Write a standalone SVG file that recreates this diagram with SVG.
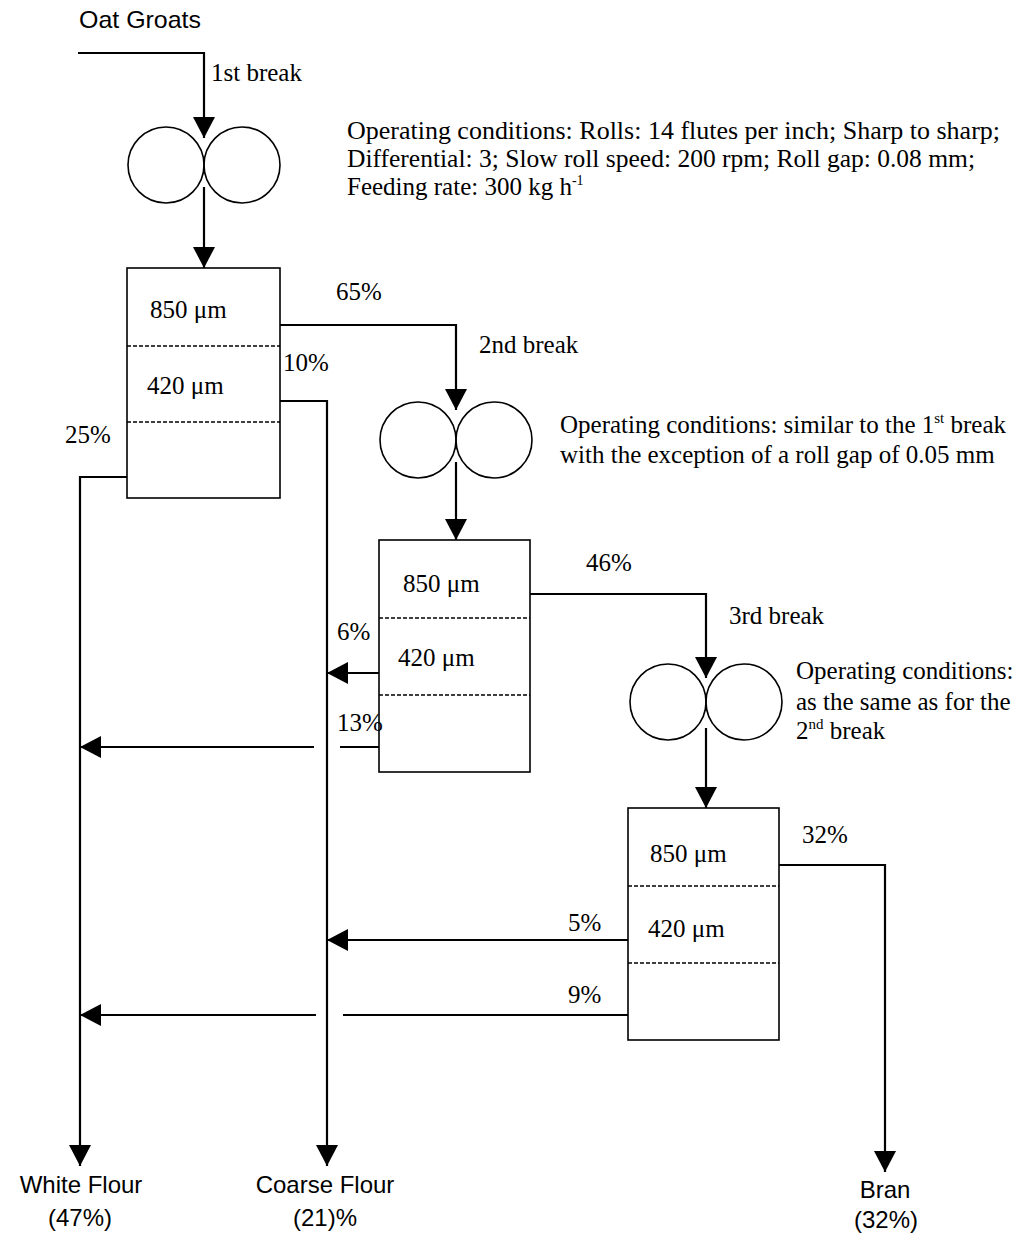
<svg xmlns="http://www.w3.org/2000/svg" width="1023" height="1233" viewBox="0 0 1023 1233">
<defs>
<style>
.serif{font-family:"Liberation Serif","Times New Roman",serif;font-size:25px;fill:#000}
.sans{font-family:"Liberation Sans",Arial,sans-serif;font-size:24px;fill:#000}
.box{fill:#fff;stroke:#000;stroke-width:1.6}
.dash{stroke:#000;stroke-width:1.5;stroke-dasharray:4 2;fill:none}
.roll{fill:none;stroke:#000;stroke-width:1.6}
.ln{fill:none;stroke:#000;stroke-width:2.2}
.arr{fill:none;stroke:#000;stroke-width:2.2;marker-end:url(#ah)}
</style>
<marker id="ah" viewBox="0 0 21 22" refX="21" refY="11" markerWidth="21" markerHeight="22" markerUnits="userSpaceOnUse" orient="auto">
<path d="M0,0 L21,11 L0,22 Z" fill="#000"/>
</marker>
</defs>
<rect width="1023" height="1233" fill="#fff"/>

<g id="connectors">
<polyline class="arr" points="78,53 204,53 204,138"/>
<line class="arr" x1="204" y1="187" x2="204" y2="268"/>
<polyline class="arr" points="280,325 456,325 456,410"/>
<polyline class="arr" points="280,401 327,401 327,1166"/>
<polyline class="arr" points="127,477 80,477 80,1166"/>
<line class="arr" x1="456" y1="462" x2="456" y2="540"/>
<polyline class="arr" points="530,594 706,594 706,678"/>
<line class="arr" x1="379" y1="673" x2="327" y2="673"/>
<line class="ln" x1="379" y1="747" x2="340" y2="747"/>
<line class="arr" x1="314" y1="747" x2="80" y2="747"/>
<line class="arr" x1="706" y1="728" x2="706" y2="808"/>
<polyline class="arr" points="779,865 885,865 885,1172"/>
<line class="arr" x1="628" y1="940" x2="327" y2="940"/>
<line class="ln" x1="628" y1="1015" x2="343" y2="1015"/>
<line class="arr" x1="316" y1="1015" x2="80" y2="1015"/>
</g>

<g id="oat-groats"><text class="sans" x="79" y="28" font-size="20" textLength="122" lengthAdjust="spacingAndGlyphs">Oat Groats</text></g>

<g id="roll-1">
<circle class="roll" cx="166" cy="165" r="38"/>
<circle class="roll" cx="242" cy="165" r="38"/>
<text class="serif" x="211" y="81">1st break</text>
</g>
<g id="conditions-1">
<text class="serif" x="347" y="139" textLength="653" lengthAdjust="spacingAndGlyphs">Operating conditions: Rolls: 14 flutes per inch; Sharp to sharp;</text>
<text class="serif" x="347" y="167" textLength="628" lengthAdjust="spacingAndGlyphs">Differential: 3; Slow roll speed: 200 rpm; Roll gap: 0.08 mm;</text>
<text class="serif" x="347" y="195">Feeding rate: 300 kg h<tspan font-size="14" dy="-10">-1</tspan></text>
</g>

<g id="sieve-1">
<rect class="box" x="127" y="268" width="153" height="230"/>
<line class="dash" x1="127" y1="346" x2="280" y2="346"/>
<line class="dash" x1="127" y1="422" x2="280" y2="422"/>
<text class="serif" x="150" y="318">850 μm</text>
<text class="serif" x="147" y="394">420 μm</text>
</g>
<g id="labels-1">
<text class="serif" x="336" y="300">65%</text>
<text class="serif" x="283" y="371">10%</text>
<text class="serif" x="65" y="443">25%</text>
</g>

<g id="roll-2">
<circle class="roll" cx="418" cy="440" r="38"/>
<circle class="roll" cx="494" cy="440" r="38"/>
<text class="serif" x="479" y="353">2nd break</text>
</g>
<g id="conditions-2">
<text class="serif" x="560" y="433">Operating conditions: similar to the 1<tspan font-size="15" dy="-10">st</tspan><tspan dy="10"> break</tspan></text>
<text class="serif" x="560" y="463">with the exception of a roll gap of 0.05 mm</text>
</g>

<g id="sieve-2">
<rect class="box" x="379" y="540" width="151" height="232"/>
<line class="dash" x1="379" y1="618" x2="530" y2="618"/>
<line class="dash" x1="379" y1="695" x2="530" y2="695"/>
<text class="serif" x="403" y="592">850 μm</text>
<text class="serif" x="398" y="666">420 μm</text>
</g>
<g id="labels-2">
<text class="serif" x="586" y="571">46%</text>
<text class="serif" x="337" y="640">6%</text>
<text class="serif" x="337" y="731">13%</text>
</g>

<g id="roll-3">
<circle class="roll" cx="668" cy="702" r="38"/>
<circle class="roll" cx="744" cy="702" r="38"/>
<text class="serif" x="729" y="624">3rd break</text>
</g>
<g id="conditions-3">
<text class="serif" x="796" y="679">Operating conditions:</text>
<text class="serif" x="796" y="710">as the same as for the</text>
<text class="serif" x="796" y="739">2<tspan font-size="15" dy="-10">nd</tspan><tspan dy="10"> break</tspan></text>
</g>

<g id="sieve-3">
<rect class="box" x="628" y="808" width="151" height="232"/>
<line class="dash" x1="628" y1="886" x2="779" y2="886"/>
<line class="dash" x1="628" y1="963" x2="779" y2="963"/>
<text class="serif" x="650" y="862">850 μm</text>
<text class="serif" x="648" y="937">420 μm</text>
</g>
<g id="labels-3">
<text class="serif" x="802" y="843">32%</text>
<text class="serif" x="568" y="931">5%</text>
<text class="serif" x="568" y="1003">9%</text>
</g>

<g id="white-flour">
<text class="sans" x="81" y="1193" text-anchor="middle">White Flour</text>
<text class="sans" x="80" y="1226" text-anchor="middle">(47%)</text>
</g>
<g id="coarse-flour">
<text class="sans" x="325" y="1193" text-anchor="middle">Coarse Flour</text>
<text class="sans" x="325" y="1226" text-anchor="middle">(21)%</text>
</g>
<g id="bran">
<text class="sans" x="885" y="1198" text-anchor="middle">Bran</text>
<text class="sans" x="886" y="1228" text-anchor="middle">(32%)</text>
</g>
</svg>
